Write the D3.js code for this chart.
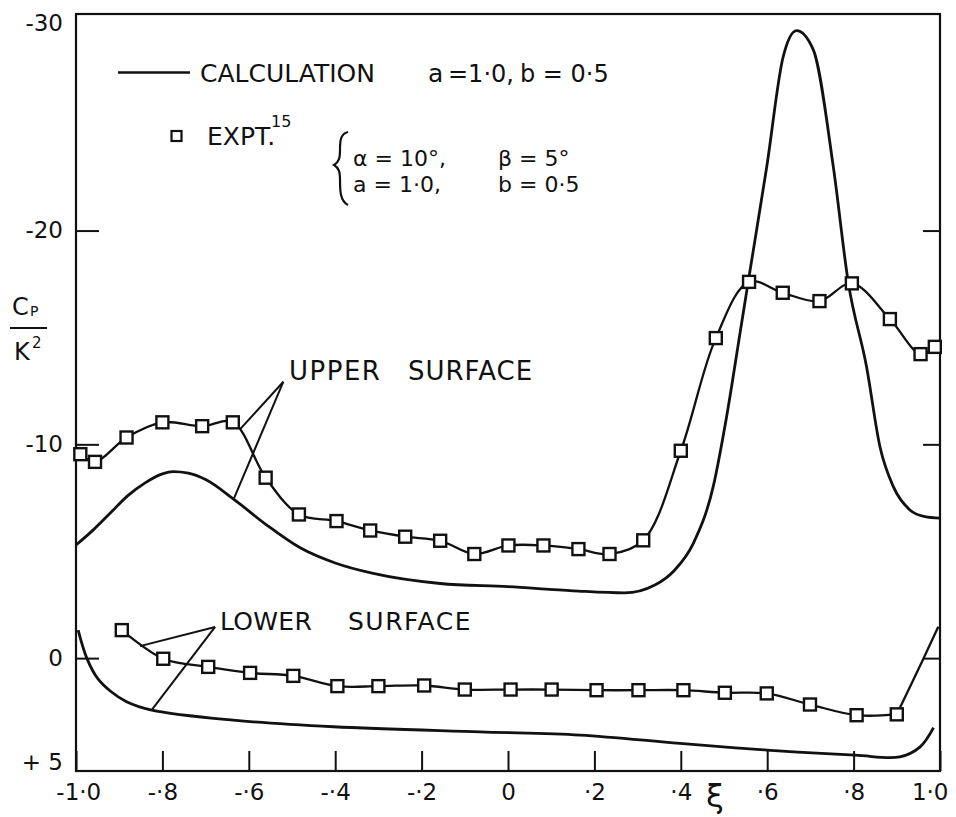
<!DOCTYPE html>
<html>
<head>
<meta charset="utf-8">
<script src="https://cdn.jsdelivr.net/npm/d3@7/dist/d3.min.js"></script>
<style>
  html, body { margin: 0; padding: 0; background: #fff; }
  svg text { font-family: "DejaVu Sans", "Liberation Sans", sans-serif; fill: #111; }
</style>
</head>
<body>
<script>
// Pressure distribution Cp/K^2 along the chord coordinate xi

// x-axis ticks and labels
const xTickValues = [-1.0, -0.8, -0.6, -0.4, -0.2, 0, 0.2, 0.4, 0.6, 0.8, 1.0];
const xTickLabels = ["-1·0", "-·8", "-·6", "-·4", "-·2", "0", "·2", "·4", "·6", "·8", "1·0"];

// y-axis ticks and labels (negative Cp upward)
const yTickValues = [-30, -20, -10, 0, 5];
const yTickLabels = ["-30", "-20", "-10", "0", "+ 5"];
const yInnerTicks = [-20, -10, 0];

// Calculation, upper surface
const upperCalcXi = [-1.0, -0.96, -0.92, -0.88, -0.84, -0.80, -0.775, -0.74, -0.70, -0.636, -0.56, -0.48, -0.40, -0.312, -0.157, 0.0, 0.151, 0.27, 0.34, 0.385, 0.429, 0.475, 0.506, 0.537, 0.556, 0.599, 0.637, 0.668, 0.707, 0.753, 0.788, 0.83, 0.861, 0.892, 0.931, 0.965, 1.0];
const upperCalcCp = [-5.29, -6.0, -6.8, -7.6, -8.2, -8.62, -8.72, -8.65, -8.35, -7.45, -6.25, -5.15, -4.45, -3.96, -3.49, -3.34, -3.15, -3.05, -3.42, -4.1, -5.37, -8.02, -11.29, -15.19, -17.6, -22.99, -28.13, -29.35, -28.44, -22.99, -17.53, -13.63, -9.89, -8.02, -6.92, -6.62, -6.55];

// Calculation, lower surface
const lowerCalcXi = [-0.995, -0.975, -0.95, -0.92, -0.883, -0.825, -0.636, -0.404, -0.065, 0.167, 0.398, 0.599, 0.803, 0.907, 0.954, 0.985];
const lowerCalcCp = [-1.31, 0.0, 0.95, 1.55, 2.04, 2.43, 2.90, 3.21, 3.45, 3.60, 3.99, 4.30, 4.54, 4.62, 4.15, 3.25];

// Experiment (ref. 15), upper surface
const upperExptXi = [-0.99, -0.956, -0.883, -0.80, -0.708, -0.637, -0.561, -0.484, -0.397, -0.319, -0.238, -0.157, -0.078, 0.001, 0.082, 0.163, 0.235, 0.313, 0.40, 0.481, 0.558, 0.636, 0.721, 0.796, 0.884, 0.955, 0.988];
const upperExptCp = [-9.54, -9.18, -10.32, -11.03, -10.85, -11.03, -8.44, -6.72, -6.41, -5.97, -5.68, -5.49, -4.87, -5.27, -5.27, -5.10, -4.87, -5.51, -9.70, -14.97, -17.6, -17.09, -16.70, -17.53, -15.86, -14.22, -14.56];

// Experiment (ref. 15), lower surface
const lowerExptXi = [-0.894, -0.798, -0.694, -0.597, -0.497, -0.395, -0.30, -0.194, -0.10, 0.006, 0.101, 0.205, 0.302, 0.406, 0.502, 0.599, 0.699, 0.807, 0.90];
const lowerExptCp = [-1.31, 0.03, 0.41, 0.69, 0.83, 1.31, 1.31, 1.28, 1.47, 1.47, 1.47, 1.50, 1.50, 1.50, 1.62, 1.65, 2.17, 2.67, 2.63];
// faired continuation of the lower experimental curve to the trailing edge
const lowerTailXi = [0.90, 0.961, 0.996];
const lowerTailCp = [2.63, 0.05, -1.47];

// Leader lines for the surface labels: [vertex, end1, end2] in (xi, Cp)
const upperLeaderXi = [-0.52, -0.620, -0.636];
const upperLeaderCp = [-12.93, -10.71, -7.39];
const lowerLeaderXi = [-0.678, -0.852, -0.825];
const lowerLeaderCp = [-1.46, -0.56, 2.43];

const W = 956, H = 817;
const svg = d3.select("body").append("svg").attr("width", W).attr("height", H);

const x = d3.scaleLinear().domain([-1, 1]).range([76, 940]);
const y = d3.scaleLinear().domain([-30.13, 5.28]).range([14, 771]);

const zip = (a, b) => a.map((v, i) => [v, b[i]]);
const line = d3.line().x(d => x(d[0])).y(d => y(d[1]));
const smooth = d3.line().x(d => x(d[0])).y(d => y(d[1])).curve(d3.curveCatmullRom.alpha(0.5));
const mono = d3.line().x(d => x(d[0])).y(d => y(d[1])).curve(d3.curveMonotoneX);

// frame
svg.append("rect")
  .attr("x", x(-1)).attr("y", y(-30.13))
  .attr("width", x(1) - x(-1)).attr("height", y(5.28) - y(-30.13))
  .attr("fill", "none").attr("stroke", "#111").attr("stroke-width", 2.2);

// bottom axis: inward ticks with labels
const xAxis = d3.axisBottom(x)
  .tickValues(xTickValues)
  .tickFormat((d, i) => xTickLabels[i])
  .tickSizeInner(-20).tickSizeOuter(0).tickPadding(13);
const gx = svg.append("g").attr("transform", `translate(0,${y(5.28)})`).call(xAxis);
gx.select(".domain").remove();
gx.selectAll("line").attr("stroke", "#111").attr("stroke-width", 2);
gx.selectAll("text").attr("font-size", 23).attr("fill", "#111").attr("font-family", "DejaVu Sans")
  .attr("dx", d => d === 1 ? "-0.45em" : (d === -1 ? "0.1em" : 0));

// left axis: labels plus inward ticks
const yAxis = d3.axisLeft(y)
  .tickValues(yTickValues)
  .tickFormat((d, i) => yTickLabels[i])
  .tickSizeInner(-23).tickSizeOuter(0).tickPadding(13);
const gy = svg.append("g").attr("transform", `translate(${x(-1)},0)`).call(yAxis);
gy.select(".domain").remove();
gy.selectAll(".tick").filter(d => !yInnerTicks.includes(d)).select("line").remove();
gy.selectAll("line").attr("stroke", "#111").attr("stroke-width", 2);
gy.selectAll("text").attr("font-size", 23).attr("fill", "#111").attr("font-family", "DejaVu Sans")
  .attr("dy", d => d === -30 ? "0.6em" : (d === 5 ? "0.2em" : "0.32em"));

// right axis: inward ticks only
const yAxisR = d3.axisRight(y).tickValues(yInnerTicks).tickFormat("")
  .tickSizeInner(-17).tickSizeOuter(0);
const gyr = svg.append("g").attr("transform", `translate(${x(1)},0)`).call(yAxisR);
gyr.select(".domain").remove();
gyr.selectAll("line").attr("stroke", "#111").attr("stroke-width", 2);

// calculated curves
svg.append("path").datum(zip(upperCalcXi, upperCalcCp))
  .attr("d", mono).attr("fill", "none").attr("stroke", "#111").attr("stroke-width", 2.8);
svg.append("path").datum(zip(lowerCalcXi, lowerCalcCp))
  .attr("d", smooth).attr("fill", "none").attr("stroke", "#111").attr("stroke-width", 2.8);

// experimental curves
svg.append("path").datum(zip(upperExptXi, upperExptCp))
  .attr("d", smooth).attr("fill", "none").attr("stroke", "#111").attr("stroke-width", 2.3);
svg.append("path").datum(zip(lowerExptXi, lowerExptCp))
  .attr("d", smooth).attr("fill", "none").attr("stroke", "#111").attr("stroke-width", 2.3);
svg.append("path").datum(zip(lowerTailXi, lowerTailCp))
  .attr("d", smooth).attr("fill", "none").attr("stroke", "#111").attr("stroke-width", 2.3);

// leader lines
[[upperLeaderXi, upperLeaderCp], [lowerLeaderXi, lowerLeaderCp]].forEach(([lx, lc]) => {
  [1, 2].forEach(k => {
    svg.append("path").datum([[lx[0], lc[0]], [lx[k], lc[k]]])
      .attr("d", line).attr("fill", "none").attr("stroke", "#111").attr("stroke-width", 2);
  });
});

// experimental markers
const sq = 12;
const markers = zip(upperExptXi, upperExptCp).concat(zip(lowerExptXi, lowerExptCp));
svg.append("g").selectAll("rect").data(markers).join("rect")
  .attr("x", d => x(d[0]) - sq / 2).attr("y", d => y(d[1]) - sq / 2)
  .attr("width", sq).attr("height", sq)
  .attr("fill", "#fff").attr("stroke", "#111").attr("stroke-width", 2.4);

// surface labels
const lab = (t, px, py, size, ls) => svg.append("text").attr("x", px).attr("y", py)
  .attr("font-size", size).attr("letter-spacing", ls || 0).text(t);
lab("UPPER", 289, 380, 26, 1.5);
lab("SURFACE", 408, 380, 26, 1);
lab("LOWER", 220, 630, 25, 0.3);
lab("SURFACE", 348, 630, 25, 1.5);

// legend
svg.append("line").attr("x1", 118).attr("x2", 190).attr("y1", 72.5).attr("y2", 72.5)
  .attr("stroke", "#111").attr("stroke-width", 2.4);
lab("CALCULATION", 200, 82, 25);
lab("a", 428, 82, 25);
lab("=1·0,", 448, 82, 24);
lab("b = 0·5", 520, 82, 24);
svg.append("rect").attr("x", 171.5).attr("y", 131).attr("width", 10).attr("height", 10)
  .attr("fill", "#fff").attr("stroke", "#111").attr("stroke-width", 2.2);
lab("EXPT.", 207, 145, 25);
lab("15", 271, 127, 16);
svg.append("path")
  .attr("d", "M348,132 C340,134 340,142 340,150 C340,158 339,162 334,165 C339,168 340,172 340,180 C340,190 340,201 348,205")
  .attr("fill", "none").attr("stroke", "#111").attr("stroke-width", 2.2);
lab("α = 10°,", 353, 166, 22);
lab("β = 5°", 498, 166, 22);
lab("a = 1·0,", 353, 192, 22);
lab("b = 0·5", 498, 192, 22);

// y-axis title Cp / K^2
lab("C", 12, 315, 24);
lab("P", 30, 316, 14);
svg.append("line").attr("x1", 10).attr("x2", 47).attr("y1", 328).attr("y2", 328)
  .attr("stroke", "#111").attr("stroke-width", 2);
lab("K", 14, 360, 24);
lab("2", 32, 348, 15);

// x-axis title
svg.append("text").attr("x", 715).attr("y", 807).attr("text-anchor", "middle")
  .attr("font-size", 32).text("ξ");
</script>
</body>
</html>
